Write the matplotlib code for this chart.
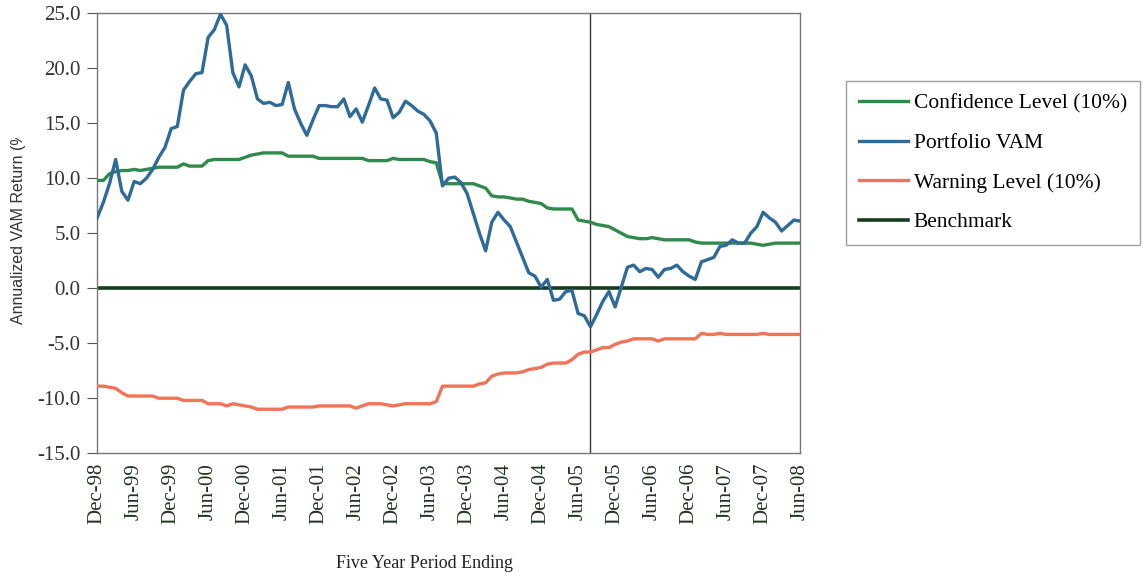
import matplotlib
matplotlib.use("Agg")
import matplotlib.pyplot as plt
from matplotlib.transforms import Bbox

# monthly, Dec-98 .. Jun-08
tick_labels = ["Dec-98", "Jun-99", "Dec-99", "Jun-00", "Dec-00", "Jun-01", "Dec-01",
               "Jun-02", "Dec-02", "Jun-03", "Dec-03", "Jun-04", "Dec-04", "Jun-05",
               "Dec-05", "Jun-06", "Dec-06", "Jun-07", "Dec-07", "Jun-08"]

portfolio = [6.4, 7.8, 9.5, 11.7, 8.8, 8.0, 9.7, 9.5, 10.0, 10.8,
             11.9, 12.8, 14.5, 14.7, 18.0, 18.8, 19.5, 19.6, 22.8, 23.5,
             24.9, 23.9, 19.6, 18.3, 20.3, 19.3, 17.2, 16.8, 16.9, 16.6,
             16.7, 18.7, 16.3, 15.0, 13.9, 15.3, 16.6, 16.6, 16.5, 16.5,
             17.2, 15.6, 16.3, 15.1, 16.6, 18.2, 17.2, 17.1, 15.5, 16.0,
             17.0, 16.6, 16.1, 15.8, 15.2, 14.1, 9.3, 10.0, 10.1, 9.6,
             8.6, 6.8, 5.0, 3.4, 6.0, 6.9, 6.2, 5.6, 4.2, 2.8,
             1.4, 1.1, 0.1, 0.8, -1.1, -1.0, -0.3, -0.2, -2.3, -2.5,
             -3.5, -2.4, -1.2, -0.3, -1.7, 0.1, 1.9, 2.1, 1.5, 1.8,
             1.7, 1.0, 1.7, 1.8, 2.1, 1.5, 1.1, 0.8, 2.4, 2.6,
             2.8, 3.8, 3.9, 4.4, 4.1, 4.1, 5.0, 5.6, 6.9, 6.4,
             6.0, 5.2, 5.7, 6.2, 6.1]

confidence = [9.8, 9.8, 10.4, 10.6, 10.7, 10.7, 10.8, 10.7, 10.8, 10.9,
              11.0, 11.0, 11.0, 11.0, 11.3, 11.1, 11.1, 11.1, 11.6, 11.7,
              11.7, 11.7, 11.7, 11.7, 11.9, 12.1, 12.2, 12.3, 12.3, 12.3,
              12.3, 12.0, 12.0, 12.0, 12.0, 12.0, 11.8, 11.8, 11.8, 11.8,
              11.8, 11.8, 11.8, 11.8, 11.6, 11.6, 11.6, 11.6, 11.8, 11.7,
              11.7, 11.7, 11.7, 11.7, 11.5, 11.4, 9.5, 9.5, 9.5, 9.5,
              9.5, 9.5, 9.3, 9.1, 8.4, 8.3, 8.3, 8.2, 8.1, 8.1,
              7.9, 7.8, 7.7, 7.3, 7.2, 7.2, 7.2, 7.2, 6.2, 6.1,
              6.0, 5.8, 5.7, 5.6, 5.3, 5.0, 4.7, 4.6, 4.5, 4.5,
              4.6, 4.5, 4.4, 4.4, 4.4, 4.4, 4.4, 4.2, 4.1, 4.1,
              4.1, 4.1, 4.1, 4.1, 4.1, 4.1, 4.1, 4.0, 3.9, 4.0,
              4.1, 4.1, 4.1, 4.1, 4.1]

warning = [-8.9, -8.9, -9.0, -9.1, -9.5, -9.8, -9.8, -9.8, -9.8, -9.8,
           -10.0, -10.0, -10.0, -10.0, -10.2, -10.2, -10.2, -10.2, -10.5, -10.5,
           -10.5, -10.7, -10.5, -10.6, -10.7, -10.8, -11.0, -11.0, -11.0, -11.0,
           -11.0, -10.8, -10.8, -10.8, -10.8, -10.8, -10.7, -10.7, -10.7, -10.7,
           -10.7, -10.7, -10.9, -10.7, -10.5, -10.5, -10.5, -10.6, -10.7, -10.6,
           -10.5, -10.5, -10.5, -10.5, -10.5, -10.3, -8.9, -8.9, -8.9, -8.9,
           -8.9, -8.9, -8.7, -8.6, -8.0, -7.8, -7.7, -7.7, -7.7, -7.6,
           -7.4, -7.3, -7.2, -6.9, -6.8, -6.8, -6.8, -6.5, -6.0, -5.8,
           -5.8, -5.6, -5.4, -5.4, -5.1, -4.9, -4.8, -4.6, -4.6, -4.6,
           -4.6, -4.8, -4.6, -4.6, -4.6, -4.6, -4.6, -4.6, -4.1, -4.2,
           -4.2, -4.1, -4.2, -4.2, -4.2, -4.2, -4.2, -4.2, -4.1, -4.2,
           -4.2, -4.2, -4.2, -4.2, -4.2]

benchmark = [0.0] * len(portfolio)
marker_month = 80  # Aug-05

months = list(range(len(portfolio)))

plt.rcParams['font.family'] = ['Liberation Serif', 'DejaVu Serif']

fig = plt.figure(figsize=(11.43, 5.73), dpi=100)
ax = fig.add_axes([0.085, 0.209, 0.615, 0.768])

ax.plot(months, confidence, color="#2f8a4c", lw=2.4, label="Confidence Level (10%)", zorder=3)
ax.plot(months, portfolio, color="#2e6b98", lw=2.4, label="Portfolio VAM", zorder=4)
ax.plot(months, warning, color="#f07458", lw=2.4, label="Warning Level (10%)", zorder=3)
ax.plot(months, benchmark, color="#173d20", lw=2.6, label="Benchmark", zorder=2)
ax.axvline(marker_month, color="#333333", lw=1.0, zorder=1)

ax.set_xlim(0, len(portfolio) - 1)
ax.set_ylim(-15, 25)
ax.set_yticks(range(-15, 26, 5))
ax.set_yticklabels([f"{v:.1f}" for v in range(-15, 26, 5)], fontsize=15, color="#333333")
ax.set_xticks(range(0, len(portfolio), 6))
ax.set_xticklabels(tick_labels, rotation=90, fontsize=15, color="#223322")
ax.tick_params(axis="y", direction="out", length=7, color="#555555", pad=5)
ax.tick_params(axis="x", direction="out", length=0, pad=7)
for s in ax.spines.values():
    s.set_color("#777777")
    s.set_linewidth(1.0)

fig.text(424 / 1143, 1 - 563 / 573, "Five Year Period Ending", fontsize=13,
         ha="center", va="center", color="#222222")

# y label, cut off at the top like the original export
ylab_bottom = 1 - 324 / 573
ylab = fig.text(0.016, ylab_bottom, "Annualized VAM Return (%)", rotation=90,
                fontsize=11.5, family=["Liberation Sans", "DejaVu Sans"],
                ha="center", va="bottom", color="#333333")
renderer = fig.canvas.get_renderer()
probe = fig.text(0, 0, "Annualized VAM Return (", fontsize=11.5,
                 family=["Liberation Sans", "DejaVu Sans"])
w_pre = probe.get_window_extent(renderer).width
probe.set_text("%")
w_pct = probe.get_window_extent(renderer).width
probe.remove()
top_px = ylab_bottom * fig.bbox.height + w_pre + 0.45 * w_pct
ylab.set_clip_box(Bbox.from_extents(0, 0, fig.bbox.width, top_px))
ylab.set_clip_on(True)

fig.legend(loc="upper left", bbox_to_anchor=(0.740, 0.859), fontsize=15.5,
           frameon=True, fancybox=False, edgecolor="#888888", handlelength=2.3,
           handletextpad=0.25, labelspacing=0.9, borderpad=0.6, borderaxespad=0.0)

fig.savefig("out.png", dpi=100)
